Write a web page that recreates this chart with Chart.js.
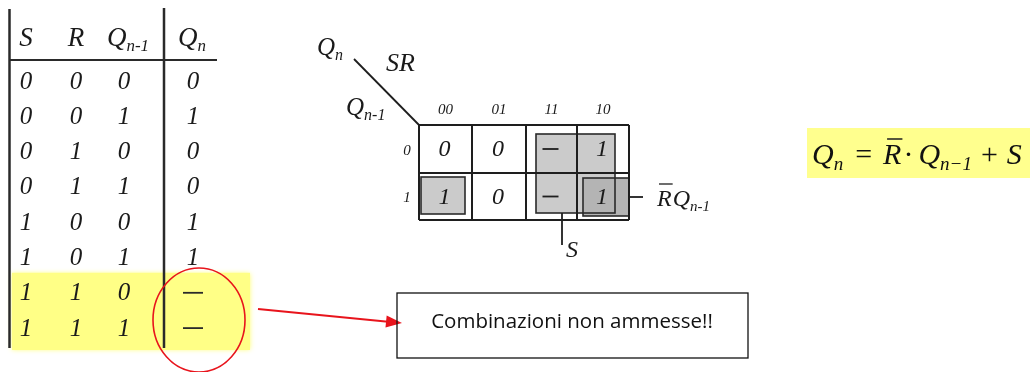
<!DOCTYPE html>
<html>
<head>
<meta charset="utf-8">
<script src="https://cdn.jsdelivr.net/npm/chart.js@4.4.1/dist/chart.umd.min.js"></script>
<style>
	html, body { margin: 0; padding: 0; background: #fff; }
	#wrap { width: 1030px; height: 372px; }
</style>
</head>
<body>
<div id="wrap"><canvas id="srChart" width="1030" height="372"></canvas></div>
<script>
	// truth table of the SR flip-flop
	var tableHeaders = [['S', ''], ['R', ''], ['Q', 'n-1'], ['Q', 'n']];
	var colS     = ['0', '0', '0', '0', '1', '1', '1', '1'];
	var colR     = ['0', '0', '1', '1', '0', '0', '1', '1'];
	var colQprev = ['0', '1', '0', '1', '0', '1', '0', '1'];
	var colQn    = ['0', '1', '0', '0', '1', '1', '-', '-'];
	var forbiddenRows = [6, 7];

	// karnaugh map
	var mapColLabels = ['00', '01', '11', '10'];
	var mapRowLabels = ['0', '1'];
	var mapRow0 = ['0', '0', '-', '1'];
	var mapRow1 = ['1', '0', '-', '1'];

	var noteText = 'Combinazioni non ammesse!!';

	var serif = '"Liberation Serif", "DejaVu Serif", serif';

	// draw a base letter with a subscript, returns the end x
	function drawSub(ctx, base, sub, x, y, size, italic) {
		var st = italic === false ? '' : 'italic ';
		ctx.font = st + size + 'px ' + serif;
		ctx.textAlign = 'left';
		ctx.textBaseline = 'alphabetic';
		ctx.fillText(base, x, y);
		var w = ctx.measureText(base).width;
		if (sub) {
			ctx.font = 'italic ' + Math.round(size * 0.64) + 'px ' + serif;
			ctx.fillText(sub, x + w, y + size * 0.2);
			w += ctx.measureText(sub).width;
		}
		return x + w;
	}

	function subWidth(ctx, base, sub, size) {
		ctx.font = 'italic ' + size + 'px ' + serif;
		var w = ctx.measureText(base).width;
		if (sub) {
			ctx.font = 'italic ' + Math.round(size * 0.64) + 'px ' + serif;
			w += ctx.measureText(sub).width;
		}
		return w;
	}

	function line(ctx, x1, y1, x2, y2) {
		ctx.beginPath();
		ctx.moveTo(x1, y1);
		ctx.lineTo(x2, y2);
		ctx.stroke();
	}

	var sheetPlugin = {
		id: 'sheet',
		afterDraw: function(chart) {
			var ctx = chart.ctx;
			var sx = chart.scales.x, sy = chart.scales.y;
			var X = function(v) { return sx.getPixelForValue(v); };
			var Y = function(v) { return sy.getPixelForValue(v); };

			ctx.save();

			// ---------- truth table ----------
			var colX = [26, 76, 124, 192];
			var rowY = function(i) { return 81 + i * 35.3; };

			// yellow highlight of the forbidden rows
			ctx.save();
			ctx.fillStyle = '#ffff86';
			ctx.shadowColor = '#ffff70';
			ctx.shadowBlur = 5;
			var yTop = rowY(forbiddenRows[0]) - 20;
			ctx.fillRect(X(12), Y(yTop), X(250) - X(12), Y(350) - Y(yTop));
			ctx.restore();

			ctx.fillStyle = '#1a1a1a';
			ctx.strokeStyle = '#2a2a2a';

			// headers
			tableHeaders.forEach(function(h, j) {
				var w = subWidth(ctx, h[0], h[1], 27);
				drawSub(ctx, h[0], h[1], X(colX[j]) - w / 2 + (j === 2 ? 4 : 0), Y(46), 27);
			});

			// values
			var cols = [colS, colR, colQprev, colQn];
			cols.forEach(function(col, j) {
				col.forEach(function(v, i) {
					var cx = X(colX[j] + (j === 3 ? 1 : 0)), cy = Y(rowY(i));
					if (v === '-') {
						ctx.lineWidth = 1.8;
						line(ctx, cx - 10, cy, cx + 10, cy);
					} else {
						ctx.font = 'italic 25px ' + serif;
						ctx.textAlign = 'center';
						ctx.textBaseline = 'middle';
						ctx.fillText(v, cx, cy + 1);
					}
				});
			});

			// table rules
			ctx.lineWidth = 2.5;
			line(ctx, X(9.5), Y(9), X(9.5), Y(348));
			line(ctx, X(164), Y(8), X(164), Y(348));
			ctx.lineWidth = 2.2;
			line(ctx, X(9), Y(60), X(217), Y(60));

			// ---------- red ellipse and arrow ----------
			ctx.strokeStyle = '#e8141c';
			ctx.fillStyle = '#e8141c';
			ctx.lineWidth = 1.6;
			ctx.beginPath();
			ctx.ellipse(X(199), Y(320), X(46) - X(0), Y(52) - Y(0), 0, 0, Math.PI * 2);
			ctx.stroke();

			var ax1 = X(258), ay1 = Y(309), ax2 = X(402), ay2 = Y(323);
			var ang = Math.atan2(ay2 - ay1, ax2 - ax1);
			ctx.lineWidth = 2;
			line(ctx, ax1, ay1, ax2 - 14 * Math.cos(ang), ay2 - 14 * Math.sin(ang));
			ctx.beginPath();
			ctx.moveTo(ax2, ay2);
			ctx.lineTo(ax2 - 16 * Math.cos(ang) + 6 * Math.sin(ang), ay2 - 16 * Math.sin(ang) - 6 * Math.cos(ang));
			ctx.lineTo(ax2 - 16 * Math.cos(ang) - 6 * Math.sin(ang), ay2 - 16 * Math.sin(ang) + 6 * Math.cos(ang));
			ctx.closePath();
			ctx.fill();

			// ---------- note box ----------
			ctx.strokeStyle = '#111';
			ctx.lineWidth = 1.3;
			ctx.strokeRect(X(397), Y(293), X(748) - X(397), Y(358) - Y(293));
			ctx.fillStyle = '#111';
			ctx.font = '20.5px "Open Sans", "Noto Sans", sans-serif';
			ctx.textAlign = 'center';
			ctx.textBaseline = 'middle';
			ctx.fillText(noteText, X(572), Y(322));

			// ---------- karnaugh map ----------
			var gx = [419, 472, 526, 577, 629];
			var gy = [125, 173, 220];

			// groupings
			ctx.fillStyle = '#cbcbcb';
			ctx.strokeStyle = '#2a2a2a';
			ctx.lineWidth = 1.6;
			ctx.fillRect(X(536), Y(134), X(615) - X(536), Y(213) - Y(134));
			ctx.fillRect(X(421), Y(177), X(465) - X(421), Y(214) - Y(177));
			ctx.fillStyle = '#b4b4b4';
			ctx.fillRect(X(583), Y(178), X(629) - X(583), Y(216) - Y(178));
			ctx.strokeRect(X(536), Y(134), X(615) - X(536), Y(213) - Y(134));
			ctx.strokeRect(X(421), Y(177), X(465) - X(421), Y(214) - Y(177));
			ctx.strokeRect(X(583), Y(178), X(629) - X(583), Y(216) - Y(178));

			// grid
			ctx.strokeStyle = '#1e1e1e';
			ctx.lineWidth = 2;
			gx.forEach(function(x) { line(ctx, X(x), Y(gy[0]), X(x), Y(gy[2])); });
			gy.forEach(function(y) { line(ctx, X(gx[0]), Y(y), X(gx[4]), Y(y)); });

			// diagonal corner
			ctx.lineWidth = 1.8;
			line(ctx, X(354), Y(59), X(419), Y(125));

			ctx.fillStyle = '#1a1a1a';
			drawSub(ctx, 'Q', 'n', X(317), Y(55), 25);
			ctx.font = 'italic 26px ' + serif;
			ctx.textAlign = 'left';
			ctx.fillText('SR', X(386), Y(71));
			drawSub(ctx, 'Q', 'n-1', X(346), Y(115), 25);

			// column / row labels
			ctx.font = 'italic 15px ' + serif;
			ctx.textAlign = 'center';
			ctx.textBaseline = 'middle';
			mapColLabels.forEach(function(t, j) {
				ctx.fillText(t, X((gx[j] + gx[j + 1]) / 2), Y(110));
			});
			mapRowLabels.forEach(function(t, i) {
				ctx.fillText(t, X(407), Y((gy[i] + gy[i + 1]) / 2 + 2));
			});

			// cells
			[mapRow0, mapRow1].forEach(function(row, i) {
				row.forEach(function(v, j) {
					var cx = X((gx[j] + gx[j + 1]) / 2 - 1), cy = Y((gy[i] + gy[i + 1]) / 2);
					if (v === '-') {
						ctx.lineWidth = 1.8;
						line(ctx, cx - 8, cy, cx + 8, cy);
					} else {
						ctx.font = 'italic 24px ' + serif;
						ctx.textAlign = 'center';
						ctx.textBaseline = 'middle';
						ctx.fillText(v, cx, cy + 1);
					}
				});
			});

			// S label
			ctx.lineWidth = 1.8;
			line(ctx, X(562), Y(213), X(562), Y(245));
			ctx.font = 'italic 24px ' + serif;
			ctx.textAlign = 'left';
			ctx.textBaseline = 'alphabetic';
			ctx.fillText('S', X(566), Y(257));

			// R-bar Q label
			line(ctx, X(629), Y(197), X(643), Y(197));
			var rx = X(657);
			ctx.font = 'italic 24px ' + serif;
			ctx.fillText('R', rx, Y(206));
			var rw = ctx.measureText('R').width;
			ctx.lineWidth = 1.3;
			line(ctx, rx + 2, Y(184), rx + rw + 1, Y(184));
			drawSub(ctx, 'Q', 'n-1', rx + rw + 1, Y(206), 24);

			// ---------- equation ----------
			ctx.save();
			ctx.fillStyle = '#ffff8e';
			ctx.fillRect(X(807), Y(128), X(1030) - X(807), Y(178) - Y(128));
			ctx.restore();
			ctx.fillStyle = '#111';
			var ey = Y(164), es = 30;
			var ex = drawSub(ctx, 'Q', 'n', X(812), ey, es) + 12;
			ctx.font = es + 'px ' + serif;
			ctx.fillText('=', ex, ey);
			ex += ctx.measureText('=').width + 11;
			ctx.font = 'italic ' + es + 'px ' + serif;
			ctx.fillText('R', ex, ey);
			var ew = ctx.measureText('R').width;
			ctx.lineWidth = 1.5;
			line(ctx, ex + 4, ey - 25, ex + ew + 1, ey - 25);
			ex += ew + 2;
			ctx.font = es + 'px ' + serif;
			ctx.fillText('\u00b7', ex, ey);
			ex += ctx.measureText('\u00b7').width + 5;
			ex = drawSub(ctx, 'Q', 'n\u22121', ex, ey, es) + 9;
			ctx.font = es + 'px ' + serif;
			ctx.fillText('+', ex, ey);
			ex += ctx.measureText('+').width + 9;
			ctx.font = 'italic ' + es + 'px ' + serif;
			ctx.fillText('S', ex, ey);

			ctx.restore();
		}
	};

	new Chart(document.getElementById('srChart'), {
		type: 'scatter',
		data: { datasets: [{ data: [], pointRadius: 0 }] },
		options: {
			responsive: false,
			animation: false,
			layout: { padding: 0 },
			plugins: { legend: { display: false }, tooltip: { enabled: false } },
			scales: {
				x: { type: 'linear', min: 0, max: 1030, display: false },
				y: { type: 'linear', min: 0, max: 372, reverse: true, display: false }
			}
		},
		plugins: [sheetPlugin]
	});
</script>
</body>
</html>
